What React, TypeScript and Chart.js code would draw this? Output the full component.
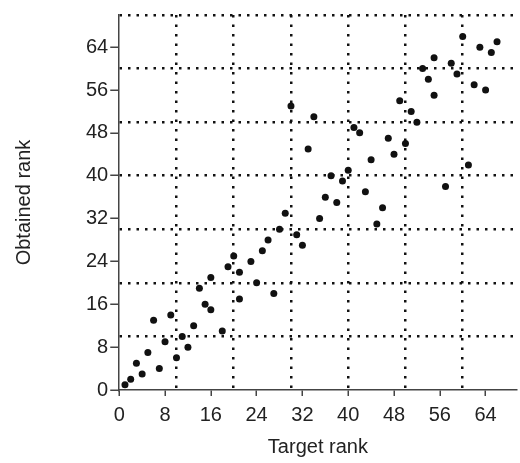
import React, { useEffect, useRef } from 'react';
import { Chart, registerables } from 'chart.js';

Chart.register(...registerables);

// Data
const targetRank = [
  1, 2, 3, 4, 5, 6, 7, 8, 9, 10, 11, 12, 13, 14, 15, 16, 16, 18, 19, 20, 21, 21,
  23, 24, 25, 26, 27, 28, 29, 30, 31, 32, 33, 34, 35, 36, 37, 38, 39, 40, 41, 42,
  43, 44, 45, 46, 47, 48, 49, 50, 51, 52, 53, 54, 55, 55, 57, 58, 59, 60, 61, 62,
  63, 64, 65, 66,
];
const obtainedRank = [
  1, 2, 5, 3, 7, 13, 4, 9, 14, 6, 10, 8, 12, 19, 16, 15, 21, 11, 23, 25, 22, 17,
  24, 20, 26, 28, 18, 30, 33, 53, 29, 27, 45, 51, 32, 36, 40, 35, 39, 41, 49, 48,
  37, 43, 31, 34, 47, 44, 54, 46, 52, 50, 60, 58, 62, 55, 38, 61, 59, 66, 42, 57,
  64, 56, 63, 65,
];

// Axis tick labels and dotted grid positions
const tickLabels = [0, 8, 16, 24, 32, 40, 48, 56, 64];
const gridValues = [10, 20, 30, 40, 50, 60, 70];

const X_MAX = 69.4;
const Y_MAX = 70;

const TEXT = '#222';
const AXIS = '#444';
const DOT = '#111';

function combinedTicks(max: number) {
  return Array.from(new Set([...tickLabels, ...gridValues]))
    .filter((v) => v <= max)
    .sort((a, b) => a - b)
    .map((value) => ({ value }));
}

function axisOptions(max: number, dash: number[], tickLength: number, tickPad: number, title: string, titlePadding: any) {
  return {
    type: 'linear' as const,
    min: 0,
    max,
    afterBuildTicks: (scale: any) => {
      scale.ticks = combinedTicks(max);
    },
    afterFit: (scale: any) => {
      scale.paddingRight = 0;
      scale.paddingTop = 0;
    },
    ticks: {
      autoSkip: false,
      maxRotation: 0,
      padding: tickPad,
      color: TEXT,
      font: { size: 20 },
      callback: (v: any) => (tickLabels.includes(Number(v)) ? String(v) : ''),
    },
    grid: {
      drawTicks: true,
      tickLength,
      lineWidth: 2.5,
      tickWidth: 1.5,
      tickBorderDash: [],
      color: (ctx: any) => {
        const v = ctx?.tick?.value;
        return v !== undefined && v !== 0 && gridValues.includes(v) ? DOT : 'rgba(0,0,0,0)';
      },
      tickColor: (ctx: any) => {
        const v = ctx?.tick?.value;
        return v !== undefined && tickLabels.includes(v) ? AXIS : 'rgba(0,0,0,0)';
      },
    },
    border: { display: true, color: AXIS, width: 1.5, dash },
    title: {
      display: true,
      text: title,
      color: TEXT,
      font: { size: 20 },
      padding: titlePadding,
    },
  };
}

export default function App() {
  const ref = useRef<HTMLCanvasElement>(null);

  useEffect(() => {
    if (!ref.current) return;
    Chart.defaults.font.family = "'Liberation Sans', Arial, sans-serif";
    const points = targetRank.map((x, i) => ({ x, y: obtainedRank[i] }));
    const chart = new Chart(ref.current, {
      type: 'scatter',
      data: {
        datasets: [
          {
            data: points,
            pointRadius: 3.5,
            pointHoverRadius: 3.5,
            pointBorderWidth: 0,
            backgroundColor: DOT,
            borderColor: DOT,
          },
        ],
      },
      options: {
        responsive: false,
        animation: false,
        layout: { padding: { left: 0, right: 0, top: 15, bottom: 0 } },
        plugins: { legend: { display: false }, tooltip: { enabled: false } },
        scales: {
          x: axisOptions(X_MAX, [2.5, 7], 6, 7, 'Target rank', { top: 1, bottom: 4 }) as any,
          y: axisOptions(Y_MAX, [2.5, 6], 9, 2, 'Obtained rank', { top: 12, bottom: 48 }) as any,
        },
      },
    });
    return () => chart.destroy();
  }, []);

  return (
    <div style={{ position: 'fixed', left: 0, top: 0, width: 520, height: 463, background: '#fff' }}>
      <canvas ref={ref} width={520} height={463} style={{ width: 520, height: 463 }} />
    </div>
  );
}
